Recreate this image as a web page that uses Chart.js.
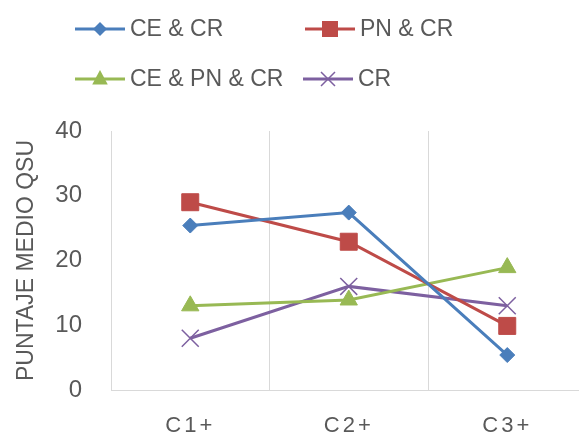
<!DOCTYPE html>
<html>
<head>
<meta charset="utf-8">
<script src="https://cdn.jsdelivr.net/npm/chart.js@4"></script>
<style>
  html, body { margin:0; padding:0; background:#fff; overflow:hidden; width:579px; height:436px; }
  #wrap { position:absolute; left:0; top:0; width:600px; height:436px; }
</style>
</head>
<body>
<div id="wrap"><canvas id="c"></canvas></div>
<script>
const categories = ['C1+', 'C2+', 'C3+'];
const seriesNames = ['CE & CR', 'PN & CR', 'CE & PN & CR', 'CR'];
const ceCr   = [25.4, 27.4, 5.4];
const pnCr   = [29.0, 22.9, 9.9];
const cePnCr = [13.0, 13.9, 18.9];
const cr     = [8.0, 16.0, 13.0];
const yTicks = [0, 10, 20, 30, 40];

const TEXT = '#595959';
const GRID = '#d9d9d9';
const colors = ['#4a7ebb', '#be4b48', '#98b954', '#7d60a0'];

const legendPos = [[75, 29], [305, 29], [75, 79], [303, 79]];

function marker(ctx, style, x, y, color) {
  ctx.save();
  ctx.fillStyle = color; ctx.strokeStyle = color;
  ctx.beginPath();
  if (style === 'rectRot') {
    const r = 7;
    ctx.moveTo(x - r, y); ctx.lineTo(x, y - r); ctx.lineTo(x + r, y); ctx.lineTo(x, y + r); ctx.closePath(); ctx.fill();
  } else if (style === 'rect') {
    const s = 8;
    ctx.rect(x - s, y - s, 2 * s, 2 * s); ctx.fill();
  } else if (style === 'triangle') {
    const r = 9;
    ctx.moveTo(x, y - r); ctx.lineTo(x + r * 0.866, y + r * 0.5 + 1); ctx.lineTo(x - r * 0.866, y + r * 0.5 + 1); ctx.closePath(); ctx.fill();
  } else if (style === 'crossRot') {
    const a = 7;
    ctx.lineWidth = 1.5;
    ctx.moveTo(x - a, y - a); ctx.lineTo(x + a, y + a);
    ctx.moveTo(x + a, y - a); ctx.lineTo(x - a, y + a); ctx.stroke();
  }
  ctx.restore();
}

const customLegend = {
  id: 'customLegend',
  afterDraw(chart) {
    const ctx = chart.ctx;
    chart.data.datasets.forEach((ds, i) => {
      const [x, y] = legendPos[i];
      ctx.save();
      ctx.strokeStyle = ds.borderColor; ctx.lineWidth = 3;
      ctx.beginPath(); ctx.moveTo(x, y); ctx.lineTo(x + 50, y); ctx.stroke();
      marker(ctx, ds.pointStyle, x + 25, y, ds.borderColor);
      ctx.fillStyle = TEXT;
      ctx.font = '23px "Liberation Sans", Arial, sans-serif';
      ctx.textAlign = 'left'; ctx.textBaseline = 'middle';
      ctx.fillText(ds.label, x + 55, y + 1);
      ctx.restore();
    });
  }
};

const spacedX = {
  id: 'spacedX',
  afterLayout(chart) {
    const s = chart.scales.x;
    if (s && !s._spaced) {
      const orig = s.drawLabels.bind(s);
      s.drawLabels = function (area) {
        const c = this.ctx; c.save(); c.letterSpacing = '3px'; orig(area); c.restore();
      };
      s._spaced = true;
    }
  }
};

const styles = ['rectRot', 'rect', 'triangle', 'crossRot'];
const radii = [7.5, 12, 10, 12];
const values = [ceCr, pnCr, cePnCr, cr];

new Chart(document.getElementById('c'), {
  type: 'line',
  data: {
    labels: categories,
    datasets: values.map((v, i) => ({
      label: seriesNames[i],
      data: v,
      borderColor: colors[i],
      backgroundColor: colors[i],
      borderWidth: 3,
      pointStyle: styles[i],
      pointRadius: radii[i],
      pointHoverRadius: radii[i],
      pointBorderWidth: i === 3 ? 1.5 : 1,
      pointBackgroundColor: colors[i],
      pointBorderColor: colors[i],
      tension: 0,
      fill: false
    }))
  },
  options: {
    responsive: true,
    maintainAspectRatio: false,
    animation: false,
    events: [],
    layout: { padding: { top: 131, left: 0, right: 10, bottom: 0 } },
    plugins: { legend: { display: false }, tooltip: { enabled: false } },
    scales: {
      x: {
        offset: true,
        grid: { display: true, offset: true, color: GRID, lineWidth: 1, drawTicks: false },
        border: { display: true, color: GRID, width: 1 },
        ticks: { color: TEXT, font: { family: '"Liberation Sans", Arial, sans-serif', size: 22 }, padding: 23, maxRotation: 0 },
        afterFit(scale) { scale.height = 46; }
      },
      y: {
        min: 0, max: 40,
        afterBuildTicks(scale) { scale.ticks = yTicks.map(v => ({ value: v })); },
        grid: { display: false, drawTicks: false },
        border: { display: true, color: GRID, width: 1 },
        ticks: { color: TEXT, font: { family: '"Liberation Sans", Arial, sans-serif', size: 24 }, padding: 29 },
        title: { display: true, text: 'PUNTAJE MEDIO QSU', color: TEXT, font: { family: '"Liberation Sans", Arial, sans-serif', size: 23 }, padding: { top: 13, bottom: 0 } },
        afterFit(scale) { scale.width = 111; }
      }
    }
  },
  plugins: [customLegend, spacedX]
});
</script>
</body>
</html>
